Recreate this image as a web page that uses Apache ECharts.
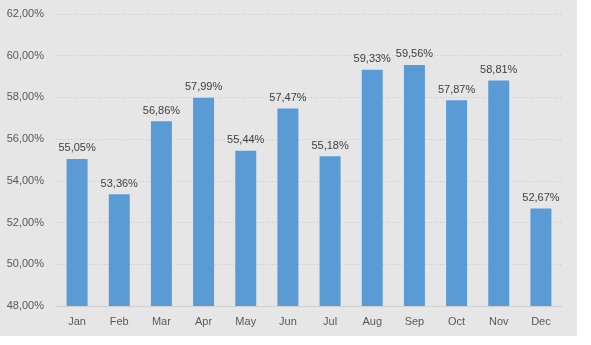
<!DOCTYPE html>
<html><head><meta charset="utf-8">
<script src="https://cdn.jsdelivr.net/npm/echarts@6/dist/echarts.min.js"></script>
<style>html,body{margin:0;padding:0;background:#fff}#c{width:591px;height:345px}</style>
</head><body><div id="c"></div>
<script>
const categories = ['Jan','Feb','Mar','Apr','May','Jun','Jul','Aug','Sep','Oct','Nov','Dec'];
const values = [55.05,53.36,56.86,57.99,55.44,57.47,55.18,59.33,59.56,57.87,58.81,52.67];
const yMin = 48, yMax = 62, yStep = 2;
const fmt = v => v.toFixed(2).replace('.', ',') + '%';
const chart = echarts.init(document.getElementById('c'), null, {renderer:'canvas'});
chart.setOption({
  animation:false,
  graphic:[{type:'rect',shape:{x:0,y:0,width:577,height:336},style:{fill:'#e7e6e6'},z:-10}],
  grid:{left:56,right:29,top:14,bottom:39,containLabel:false},
  xAxis:{type:'category',data:categories,
    axisLine:{show:true,lineStyle:{color:'#d0d0d0'}},axisTick:{show:false},
    axisLabel:{color:'#595959',fontFamily:'Liberation Sans, Arial',fontSize:11,margin:10}},
  yAxis:{type:'value',min:yMin,max:yMax,interval:yStep,
    axisLine:{show:false},axisTick:{show:false},
    splitLine:{lineStyle:{color:'#c8c8c8',type:[1,2]}},
    axisLabel:{color:'#595959',fontFamily:'Liberation Sans, Arial',fontSize:11,margin:12,formatter:fmt}},
  series:[{type:'bar',data:values,barWidth:21,itemStyle:{color:'#5b9bd5'},
    label:{show:true,position:'top',distance:5,color:'#404040',fontFamily:'Liberation Sans, Arial',fontSize:11,formatter:p=>fmt(p.value)}}]
});
</script></body></html>
